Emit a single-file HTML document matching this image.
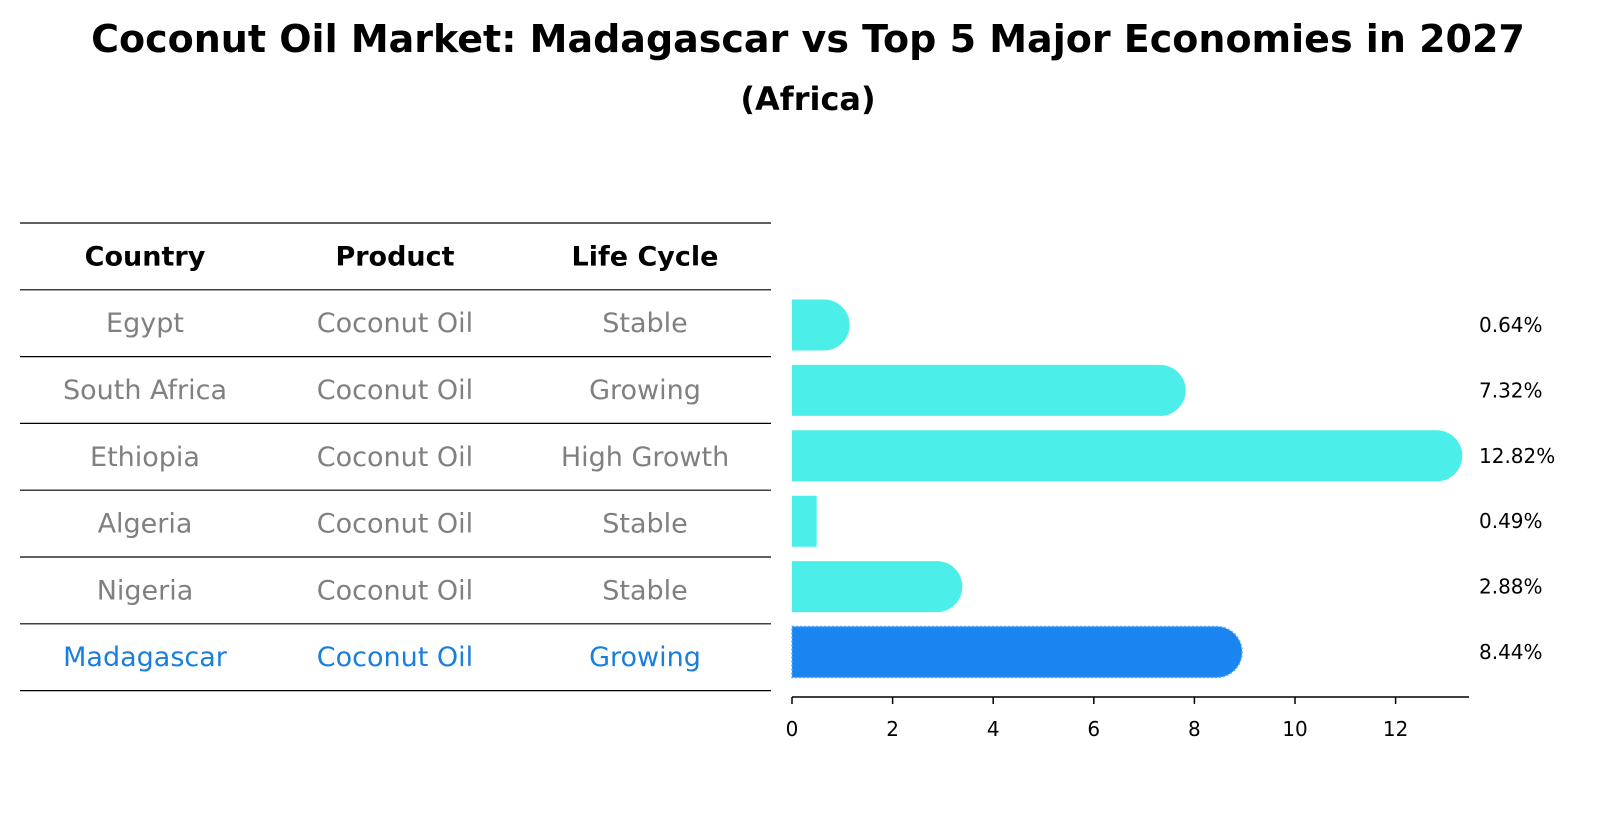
<!DOCTYPE html>
<html><head><meta charset="utf-8"><style>
body{margin:0;background:#fff;font-family:"DejaVu Sans","Liberation Sans",sans-serif;}
svg text{font-family:"DejaVu Sans","Liberation Sans",sans-serif;}
</style></head><body>
<svg id="c" width="1604" height="823" xmlns="http://www.w3.org/2000/svg">
<text x="808" y="52" text-anchor="middle" font-size="38" font-weight="bold">Coconut Oil Market: Madagascar vs Top 5 Major Economies in 2027</text>
<text x="808" y="110" text-anchor="middle" font-size="32" font-weight="bold">(Africa)</text>
<g id="table"></g>
<g id="bars"></g>
</svg>
<script>
const countries=["Egypt","South Africa","Ethiopia","Algeria","Nigeria","Madagascar"];
const products=["Coconut Oil","Coconut Oil","Coconut Oil","Coconut Oil","Coconut Oil","Coconut Oil"];
const lifecycle=["Stable","Growing","High Growth","Stable","Stable","Growing"];
const values=[0.64,7.32,12.82,0.49,2.88,8.44];
const ticks=[0,2,4,6,8,10,12];
const NS="http://www.w3.org/2000/svg";
function mk(t,a,p){const e=document.createElementNS(NS,t);for(const k in a)e.setAttribute(k,a[k]);p.appendChild(e);return e;}
const tb=document.getElementById('table');
const rowH=66.8,top0=223,cols=[145,395,645];
for(let i=0;i<=countries.length+1;i++){
 const l=mk('line',{x1:20,x2:771,y1:top0+i*rowH,y2:top0+i*rowH,stroke:'#000','stroke-width':1.2},tb);
 
 
}
["Country","Product","Life Cycle"].forEach((h,j)=>{
 const t=mk('text',{x:cols[j],y:top0+rowH/2+9,'text-anchor':'middle','font-size':27,'font-weight':'bold'},tb);t.textContent=h;
 
 
});
countries.forEach((c,i)=>{
 const col=c==="Madagascar"?'#1a7fdc':'#808080';
 [c,products[i],lifecycle[i]].forEach((v,j)=>{
  const t=mk('text',{x:cols[j],y:top0+rowH*(i+1)+rowH/2+9,'text-anchor':'middle','font-size':27,fill:col},tb);t.textContent=v;
  
  
 });
});
const bg=document.getElementById('bars');
const x0=792,ppu=50.3;const X=v=>x0+v*ppu;
const yc=i=>325+i*65.4;const bh=51;
values.forEach((v,i)=>{
 const mad=countries[i]==="Madagascar";
 const w=X(v)-x0,r=bh/2,y=yc(i)-bh/2;
 let d;
 if(w>r){d=`M${x0},${y}H${X(v)}A${r},${r} 0 0 1 ${X(v)},${y+bh}H${x0}Z`;}
 else d=`M${x0},${y}H${X(v)}V${y+bh}H${x0}Z`;
 const p=mk('path',{d:d,fill:mad?'#1a85f0':'#4beee8'},bg);
 if(mad){p.setAttribute('stroke','#4aa8ff');p.setAttribute('stroke-dasharray','2 2');p.setAttribute('stroke-width','1.5');}
 
 
 const t=mk('text',{x:1479,y:yc(i)+7,'font-size':20},bg);t.textContent=v.toFixed(2)+'%';
 
 
});
const ax=mk('line',{x1:x0,x2:1469,y1:697,y2:697,stroke:'#000','stroke-width':1.5},bg);


ticks.forEach(tv=>{
 const l=mk('line',{x1:X(tv),x2:X(tv),y1:697,y2:704,stroke:'#000','stroke-width':1.5},bg);
 
 
 const t=mk('text',{x:X(tv),y:736,'text-anchor':'middle','font-size':20},bg);t.textContent=tv;
 
 
});
</script>
</body></html>
